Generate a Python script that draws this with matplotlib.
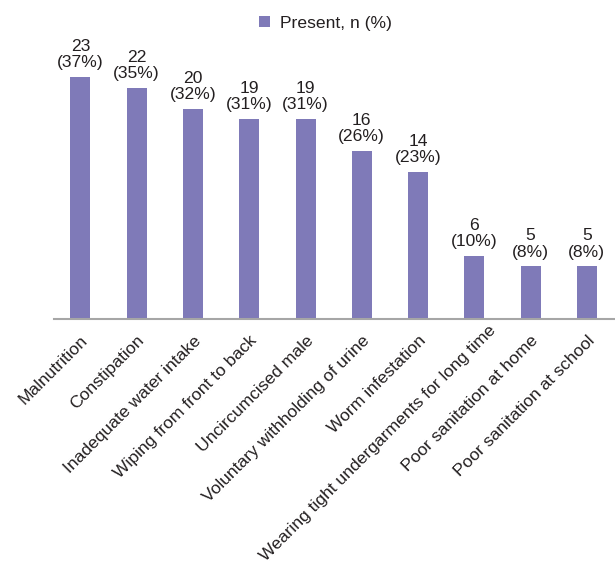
import matplotlib.pyplot as plt
import matplotlib.transforms as mtransforms
import numpy as np

plt.rcParams['font.family'] = ['Liberation Sans', 'DejaVu Sans']

# Data
categories = [
    "Malnutrition",
    "Constipation",
    "Inadequate water intake",
    "Wiping from front to back",
    "Uncircumcised male",
    "Voluntary withholding of urine",
    "Worm infestation",
    "Wearing tight undergarments for long time",
    "Poor sanitation at home",
    "Poor sanitation at school",
]
counts = [23, 22, 20, 19, 19, 16, 14, 6, 5, 5]
percents = [37, 35, 32, 31, 31, 26, 23, 10, 8, 8]

BAR_COLOR = "#7f7ab8"
TEXT_COLOR = "#231f20"
FS = 12.6

fig = plt.figure(figsize=(6.15, 5.65), dpi=100)
ax = fig.add_axes([54 / 615, 1 - 319 / 565, 1 - 54 / 615, 289 / 565])

x = np.arange(len(categories))
bars = ax.bar(x, counts, width=0.355, color=BAR_COLOR, label="Present, n (%)")

for xi, c, p in zip(x, counts, percents):
    ax.annotate(f"{c}\n({p}%)", (xi, c), xytext=(0, 5), textcoords="offset points",
                ha="center", va="bottom", fontsize=FS, color=TEXT_COLOR,
                linespacing=1.1)

ax.set_xlim(-0.47, 9.5)
ax.set_ylim(0, 27.5)
ax.set_xticks(x)
ax.set_xticklabels(categories, rotation=45, ha="right", rotation_mode="anchor",
                   fontsize=FS, color=TEXT_COLOR)
ax.tick_params(axis="x", length=0, pad=10)
ax.set_yticks([])
for s in ["top", "right", "left"]:
    ax.spines[s].set_visible(False)
ax.spines["bottom"].set_color("#a6a6a6")
ax.spines["bottom"].set_linewidth(1.5)

# longest label pushed up/right so it fits (as in the original)
lab = ax.get_xticklabels()[7]
lab.set_transform(lab.get_transform() +
                  mtransforms.ScaledTranslation(14 / 100, 10 / 100, fig.dpi_scale_trans))

fig.legend(loc="upper center", bbox_to_anchor=(0.53, 1.0), frameon=False,
           fontsize=FS, handlelength=0.6, handleheight=0.6, handletextpad=0.6,
           labelcolor=TEXT_COLOR)

fig.savefig("out.png", dpi=100)
